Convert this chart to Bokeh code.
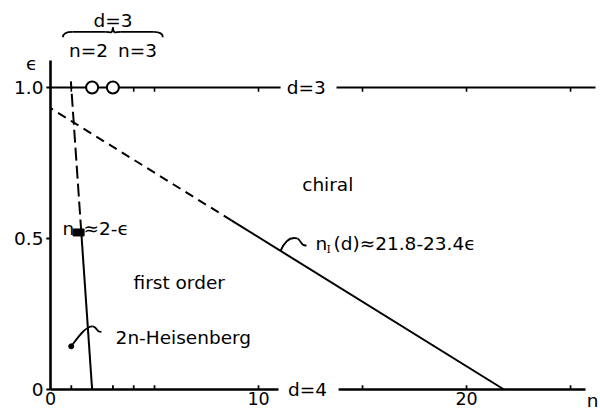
import numpy as np
from bokeh.plotting import figure
from bokeh.models import Range1d
from bokeh.core.properties import value
from bokeh.embed import file_html
from bokeh.resources import INLINE

# --- data -------------------------------------------------------------
# chiral / first-order boundary  n_I(d) ~ 21.8 - 23.4 eps
nI_const = 21.8
nI_slope = 23.4
nI_eps_solid_top = 0.56          # above this the boundary is only an extrapolation
# Heisenberg boundary  n ~ 2 - eps
nH_const = 2.0
nH_slope = 1.0
nH_eps_solid_top = 0.52
nH_eps_dashed_top = 1.0

# known d=3 points on the eps = 1 line
d3_points_n = [2, 3]
d3_points_eps = [1.0, 1.0]

# axes
x_minor_ticks = [1, 2, 3, 4, 5, 10, 15, 20, 25]
x_label_ticks = [0, 10, 20]
x_tick_labels = ["0", "10", "20"]
y_ticks = [0.0, 0.5, 1.0]
y_tick_labels = ["0", "0.5", "1.0"]
n_max = 25.72
eps_max = 1.089

# d = 3 (eps = 1) and d = 4 (eps = 0) reference lines, broken for their labels
d3_line_n = [[0.0, 11.06], [13.75, 26.2]]
d4_line_n = [[0.0, 10.96], [13.85, n_max]]

FONT = value("DejaVu Sans")
FS = "18.5px"

p = figure(width=600, height=410, output_backend="svg", toolbar_location=None,
           x_range=Range1d(-2.404, 26.44), y_range=Range1d(-0.0695, 1.288),
           x_axis_type=None, y_axis_type=None, min_border=0)
p.outline_line_color = None
p.background_fill_color = "white"
p.border_fill_color = "white"

K = "black"

# --- axes ---------------------------------------------------------------
p.line([0, 0], [0, eps_max], line_color=K, line_width=2.6)
for a, b in d4_line_n:
    p.line([a, b], [0, 0], line_color=K, line_width=2.6)
for a, b in d3_line_n:
    p.line([a, b], [1.0, 1.0], line_color=K, line_width=2)

xt = np.array(x_minor_ticks, dtype=float)
p.segment(xt, np.zeros_like(xt), xt, np.full_like(xt, 0.014), line_color=K, line_width=1.8)
p.segment(xt, np.ones_like(xt), xt, np.full_like(xt, 0.986), line_color=K, line_width=1.6)
yt = np.array(y_ticks)
p.segment(np.full_like(yt, -0.2), yt, np.zeros_like(yt), yt, line_color=K, line_width=2)

p.text(x=x_label_ticks, y=[0] * 3, text=x_tick_labels, y_offset=9,
       text_align="center", text_baseline="middle", text_font=FONT,
       text_font_size="17.5px", text_color=K)
p.text(x=[0] * 3, y=y_ticks, text=y_tick_labels, x_offset=-7,
       text_align="right", text_baseline="middle", text_font=FONT,
       text_font_size=FS, text_color=K)
p.text(x=[26.06], y=[-0.035], text=["n"], text_align="center", text_baseline="middle",
       text_font=FONT, text_font_size=FS, text_color=K)
p.text(x=[-0.91], y=[1.079], text=["ϵ"], text_align="center", text_baseline="middle",
       text_font=FONT, text_font_size=FS, text_color=K)
p.text(x=[12.3, 12.36], y=[1.0, 0.0], text=["d=3", "d=4"], text_align="center",
       text_baseline="middle", text_font=FONT, text_font_size=FS, text_color=K)

# --- boundaries ---------------------------------------------------------
eps_s = np.array([0.0, nI_eps_solid_top])
p.line(nI_const - nI_slope * eps_s, eps_s, line_color=K, line_width=2)
eps_d = np.array([nI_eps_solid_top, nI_const / nI_slope])
p.line(nI_const - nI_slope * eps_d, eps_d, line_color=K, line_width=2, line_dash="9 6")

eps_s = np.array([0.0, nH_eps_solid_top])
p.line(nH_const - nH_slope * eps_s, eps_s, line_color=K, line_width=2)
eps_d = np.array([nH_eps_solid_top, nH_eps_dashed_top + 0.02])
p.line(nH_const - nH_slope * eps_d, eps_d, line_color=K, line_width=2, line_dash="13 5")
p.rect(x=[1.35], y=[nH_eps_solid_top], width=11, height=7,
       width_units="screen", height_units="screen", fill_color=K, line_color=K)

p.scatter(d3_points_n, d3_points_eps, marker="circle", size=12,
          fill_color="white", line_color=K, line_width=2)

# --- region labels -------------------------------------------------------
p.text(x=[12.1, 3.99, 3.13], y=[0.68, 0.354, 0.172],
       text=["chiral", "first order", "2n-Heisenberg"], text_align="left",
       text_baseline="middle", text_font=FONT, text_font_size=FS, text_color=K)

# n_I(d) label with subscript
p.text(x=[12.74], y=[0.483], text=["n"], text_align="left", text_baseline="middle",
       text_font=FONT, text_font_size=FS, text_color=K)
p.text(x=[12.74], y=[0.483], text=["I"], x_offset=11, y_offset=6, text_align="left",
       text_baseline="middle", text_font=value("DejaVu Serif"), text_font_size="11px",
       text_color=K)
p.text(x=[12.74], y=[0.483], text=["(d)≈21.8-23.4ϵ"], x_offset=18, text_align="left",
       text_baseline="middle", text_font=FONT, text_font_size=FS, text_color=K)

# n_H label
p.text(x=[0.58, 1.59], y=[0.533, 0.533], text=["n", "≈2-ϵ"], text_align="left",
       text_baseline="middle", text_font=FONT, text_font_size=FS, text_color=K)

# leader strokes
p.bezier(x0=[0.995, 2.019], y0=[0.143, 0.209], x1=[2.019, 2.45], y1=[0.209, 0.192],
         cx0=[1.346, 2.26], cy0=[0.175, 0.209], cx1=[1.683, 2.21], cy1=[0.209, 0.185],
         line_color=K, line_width=1.8)
p.scatter([0.995], [0.143], marker="circle", size=5, fill_color=K, line_color=K)
p.bezier(x0=[11.06, 11.875], y0=[0.459, 0.500], x1=[11.875, 12.31], y1=[0.500, 0.477],
         cx0=[11.25, 12.07], cy0=[0.490, 0.493], cx1=[11.54, 12.02], cy1=[0.507, 0.474],
         line_color=K, line_width=1.8)

# brace over the d=3 points
bx0, bx1, bc = 0.6, 5.4, 3.0
by, bend, btip = 1.184, 1.166, 1.199
p.bezier(x0=[bx0, bc - 0.35, bc, bx1 - 0.45], y0=[bend, by, btip, by],
         x1=[bx0 + 0.45, bc, bc + 0.35, bx1], y1=[by, btip, by, bend],
         cx0=[bx0, bc - 0.12, bc + 0.03, bx1 - 0.15], cy0=[by - 0.006, by, by - 0.009, by],
         cx1=[bx0 + 0.15, bc - 0.03, bc + 0.12, bx1], cy1=[by, by - 0.009, by, by - 0.006],
         line_color=K, line_width=1.8)
p.segment([bx0 + 0.45, bc + 0.35], [by, by], [bc - 0.35, bx1 - 0.45], [by, by],
          line_color=K, line_width=1.8)
p.text(x=[bc, 1.83, 4.18], y=[1.222, 1.123, 1.123], text=["d=3", "n=2", "n=3"],
       text_align="center", text_baseline="middle", text_font=FONT,
       text_font_size=FS, text_color=K)

open("out.html", "w").write(file_html(p, INLINE))
